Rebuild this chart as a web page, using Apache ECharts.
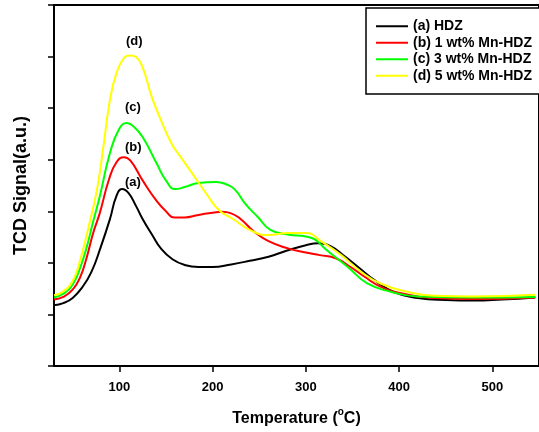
<!DOCTYPE html>
<html>
<head>
<meta charset="utf-8">
<script src="https://cdn.jsdelivr.net/npm/echarts@6/dist/echarts.min.js"></script>
<style>html,body{margin:0;padding:0;background:#fff}#c{width:539px;height:432px}</style>
</head>
<body>
<div id="c"></div>
<script>
const seriesNames = ['(a) HDZ', '(b) 1 wt% Mn-HDZ', '(c) 3 wt% Mn-HDZ', '(d) 5 wt% Mn-HDZ'];
const peakLabels = ['(a)', '(b)', '(c)', '(d)'];
const xTicks = [100, 200, 300, 400, 500];

const hdz = [[30,1.18],[40,1.22],[50,1.32],[60,1.52],[70,1.82],[80,2.3],[90,2.85],[97,3.3],[103,3.43],[110,3.35],[118,3.1],[125,2.85],[135,2.55],[145,2.27],[157,2.07],[170,1.96],[185,1.92],[200,1.92],[220,1.97],[240,2.04],[260,2.12],[280,2.24],[300,2.34],[313,2.38],[327,2.32],[342,2.12],[356,1.92],[374,1.66],[395,1.43],[420,1.32],[450,1.28],[480,1.27],[510,1.29],[546,1.33]];
const mn1 = [[30,1.29],[40,1.34],[50,1.48],[58,1.72],[65,2.1],[72,2.58],[79,2.96],[89,3.62],[97,3.95],[105,4.05],[112,3.98],[125,3.6],[140,3.2],[150,3.0],[159,2.88],[170,2.88],[185,2.93],[200,2.97],[210,2.99],[220,2.96],[230,2.85],[245,2.6],[260,2.42],[281,2.28],[300,2.2],[315,2.15],[332,2.09],[348,1.92],[363,1.73],[380,1.54],[402,1.41],[438,1.32],[480,1.3],[546,1.33]];
const mn3 = [[30,1.33],[40,1.4],[50,1.58],[58,1.9],[65,2.3],[72,2.8],[79,3.28],[90,4.13],[100,4.6],[108,4.71],[115,4.65],[125,4.44],[140,3.93],[150,3.6],[160,3.43],[170,3.47],[185,3.55],[204,3.57],[215,3.52],[224,3.42],[235,3.15],[249,2.88],[262,2.64],[281,2.55],[300,2.51],[310,2.45],[321,2.27],[345,1.92],[366,1.6],[391,1.44],[420,1.35],[480,1.33],[546,1.34]];
const mn5 = [[30,1.37],[40,1.45],[50,1.65],[58,2.05],[68,2.77],[76,3.41],[83,4.26],[90,5.16],[97,5.68],[105,5.97],[112,6.02],[118,5.99],[125,5.79],[135,5.21],[146,4.71],[157,4.28],[164,4.1],[178,3.74],[193,3.35],[207,3.02],[221,2.86],[242,2.62],[260,2.54],[281,2.58],[300,2.58],[317,2.41],[338,2.15],[359,1.83],[380,1.6],[409,1.44],[438,1.36],[480,1.35],[546,1.38]];

const dataSets = [hdz, mn1, mn3, mn5];
const colors = ['#000000', '#ff0000', '#00ff00', '#ffff00'];
const FONT = 'Liberation Sans, Arial, sans-serif';

const chart = echarts.init(document.getElementById('c'));
chart.setOption({
  animation: false,
  backgroundColor: '#fff',
  grid: { left: 54, right: -3, top: 5, bottom: 66, show: true, borderColor: '#000', borderWidth: 2, containLabel: false },
  xAxis: {
    type: 'value', min: 30, max: 550,
    name: '{t|Temperature (}{sup|o}{t|C)}', nameLocation: 'middle', nameGap: 41,
    nameTextStyle: { fontFamily: FONT, fontWeight: 'bold', fontSize: 16, color: '#000',
      rich: {
        t: { fontFamily: FONT, fontWeight: 'bold', fontSize: 16, color: '#000', lineHeight: 20, verticalAlign: 'bottom' },
        sup: { fontFamily: FONT, fontWeight: 'bold', fontSize: 10, color: '#000', lineHeight: 20, verticalAlign: 'top' }
      } },
    axisLine: { lineStyle: { color: '#000', width: 2 } },
    axisTick: { show: true, customValues: xTicks, length: 6, lineStyle: { color: '#000', width: 1.5 } },
    axisLabel: { customValues: xTicks, fontFamily: FONT, fontWeight: 'bold', fontSize: 13, color: '#000', margin: 15 },
    splitLine: { show: false }
  },
  yAxis: {
    type: 'value', min: 0, max: 7, interval: 1,
    name: 'TCD Signal(a.u.)', nameLocation: 'middle', nameGap: 24,
    nameTextStyle: { fontFamily: FONT, fontWeight: 'bold', fontSize: 18, color: '#000' },
    axisLine: { show: true, lineStyle: { color: '#000', width: 2 } },
    axisTick: { show: true, length: 6, lineStyle: { color: '#000', width: 1.5 } },
    axisLabel: { show: false },
    splitLine: { show: false }
  },
  legend: {
    orient: 'vertical', left: 366, top: 8,
    padding: [10, 80, 10, 10],
    borderColor: '#000', borderWidth: 1.5, backgroundColor: '#fff',
    icon: 'rect', itemWidth: 32, itemHeight: 2, itemGap: 0,
    textStyle: { fontFamily: FONT, fontWeight: 'bold', fontSize: 14, color: '#000', lineHeight: 16.5 },
    data: seriesNames
  },
  series: dataSets.map((d, i) => ({
    name: seriesNames[i], type: 'line', data: d, smooth: 0.5,
    showSymbol: false, symbol: 'none', color: colors[i],
    lineStyle: { color: colors[i], width: 2 }, z: 2 + i
  })),
  graphic: [
    { type: 'text', left: 125, top: 101, style: { text: peakLabels[2], font: 'bold 13px ' + FONT, fill: '#000' } },
    { type: 'text', left: 125, top: 141, style: { text: peakLabels[1], font: 'bold 13px ' + FONT, fill: '#000' } },
    { type: 'text', left: 125, top: 176, style: { text: peakLabels[0], font: 'bold 13px ' + FONT, fill: '#000' } },
    { type: 'text', left: 126, top: 35, style: { text: peakLabels[3], font: 'bold 13px ' + FONT, fill: '#000' } }
  ]
});
</script>
</body>
</html>
